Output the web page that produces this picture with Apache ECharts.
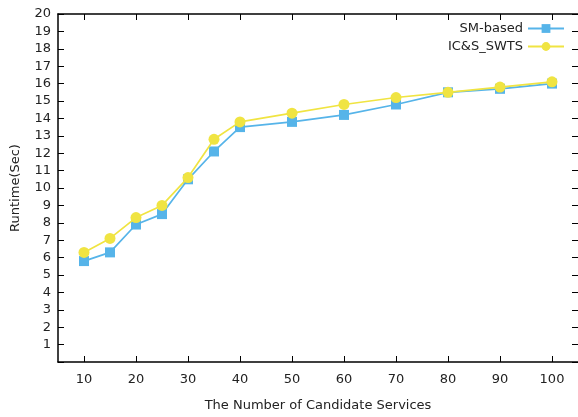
<!DOCTYPE html>
<html>
<head>
<meta charset="utf-8">
<script src="https://cdn.jsdelivr.net/npm/echarts@6/dist/echarts.min.js"></script>
<style>
  html, body { margin: 0; padding: 0; background: #fff; }
  #chart { width: 578px; height: 417px; }
</style>
</head>
<body>
<div id="chart"></div>
<script>
  // 候选服务数量
  const services = [10, 15, 20, 25, 30, 35, 40, 50, 60, 70, 80, 90, 100]
  const xTicks = [10, 20, 30, 40, 50, 60, 70, 80, 90, 100]
  const smBased = [5.8, 6.3, 7.9, 8.5, 10.5, 12.1, 13.5, 13.8, 14.2, 14.8, 15.5, 15.7, 16.0]
  const icsSwts = [6.3, 7.1, 8.3, 9.0, 10.6, 12.8, 13.8, 14.3, 14.8, 15.2, 15.5, 15.8, 16.1]

  const font = 'DejaVu Sans'
  const pair = vals => services.map((s, i) => [s, vals[i]])

  const chart = echarts.init(document.getElementById('chart'))
  const option = {
    animation: false,
    textStyle: { fontFamily: font, color: '#222' },
    grid: { left: 58, right: -2, top: 14, bottom: 53, containLabel: false },
    legend: {
      orient: 'vertical',
      right: 8,
      top: 17,
      align: 'right',
      itemWidth: 36,
      itemHeight: 11,
      itemGap: 5,
      textStyle: { fontFamily: font, fontSize: 13, color: '#222' },
      data: ['SM-based', 'IC&S_SWTS']
    },
    xAxis: [
      {
        type: 'value',
        min: 5,
        max: 105,
        name: 'The Number of Candidate Services',
        nameLocation: 'middle',
        nameGap: 37,
        nameTextStyle: { fontFamily: font, fontSize: 13, color: '#222' },
        axisLine: { show: true, onZero: false, lineStyle: { color: '#000', width: 1.5 } },
        axisTick: { show: true, inside: true, length: 6, customValues: xTicks, lineStyle: { color: '#000' } },
        axisLabel: { customValues: xTicks, margin: 11, fontSize: 13, color: '#222', fontFamily: font },
        splitLine: { show: false }
      },
      {
        type: 'value',
        position: 'top',
        min: 5,
        max: 105,
        axisLine: { show: true, onZero: false, lineStyle: { color: '#000', width: 1.5 } },
        axisTick: { show: true, inside: true, length: 6, customValues: xTicks, lineStyle: { color: '#000' } },
        axisLabel: { show: false, customValues: xTicks },
        splitLine: { show: false }
      }
    ],
    yAxis: [
      {
        type: 'value',
        min: 0,
        max: 20,
        interval: 1,
        name: 'Runtime(Sec)',
        nameLocation: 'middle',
        nameGap: 36,
        nameTextStyle: { fontFamily: font, fontSize: 13, color: '#222' },
        axisLine: { show: true, onZero: false, lineStyle: { color: '#000', width: 1.5 } },
        axisTick: { show: true, inside: true, length: 6, lineStyle: { color: '#000' } },
        axisLabel: {
          margin: 7,
          fontSize: 13,
          color: '#222',
          fontFamily: font,
          formatter: v => (v === 0 ? '' : v)
        },
        splitLine: { show: false }
      },
      {
        type: 'value',
        position: 'right',
        min: 0,
        max: 20,
        interval: 1,
        axisLine: { show: false, onZero: false },
        axisTick: { show: true, inside: true, length: 6, lineStyle: { color: '#000' } },
        axisLabel: { show: false },
        splitLine: { show: false }
      }
    ],
    series: [
      {
        name: 'SM-based',
        type: 'line',
        data: pair(smBased),
        symbol: 'rect',
        symbolSize: 10,
        lineStyle: { color: '#56b4e9', width: 1.7 },
        itemStyle: { color: '#56b4e9' },
        z: 2
      },
      {
        name: 'IC&S_SWTS',
        type: 'line',
        data: pair(icsSwts),
        symbol: 'circle',
        symbolSize: 11,
        lineStyle: { color: '#f0e442', width: 1.7 },
        itemStyle: { color: '#f0e442' },
        z: 3
      }
    ]
  }
  chart.setOption(option)
</script>
</body>
</html>
